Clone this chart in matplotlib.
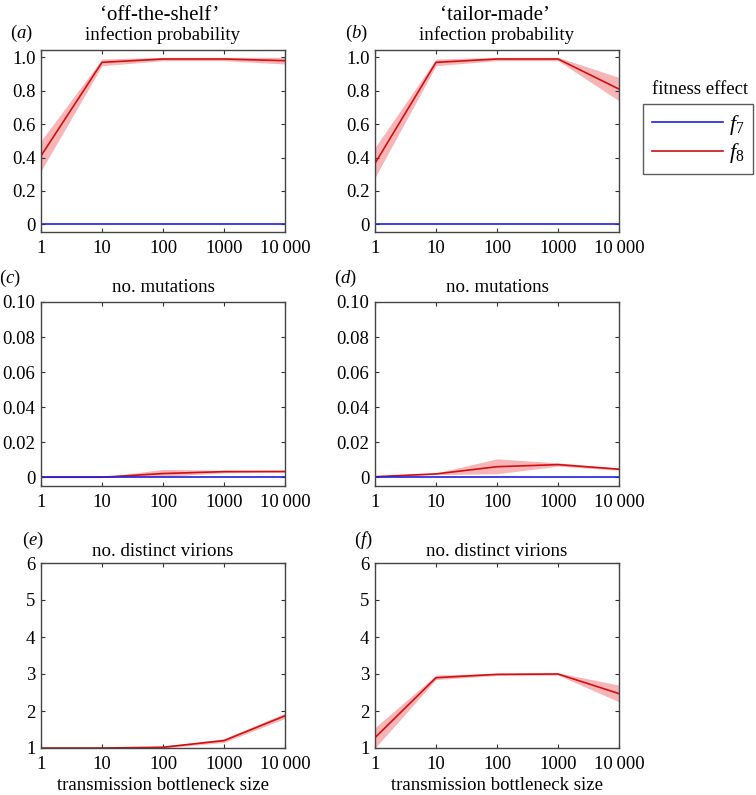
import numpy as np
import matplotlib.pyplot as plt

plt.rcParams['font.family'] = ['Liberation Serif', 'DejaVu Serif']
plt.rcParams['mathtext.fontset'] = 'custom'
plt.rcParams['mathtext.rm'] = 'Liberation Serif'
plt.rcParams['mathtext.it'] = 'Liberation Serif:italic'

# bottleneck sizes
bottleneck = [1, 10, 100, 1000, 10000]
xtick_labels = ['1', '10', '100', '1000', '10\u2009000']

# f7 is zero everywhere in all panels
f7_infection = [0, 0, 0, 0, 0]
f7_mutations = [0, 0, 0, 0, 0]

# off-the-shelf, f8 (mean, lower, upper)
ots_infection = [0.41, 0.97, 0.99, 0.99, 0.98]
ots_infection_lo = [0.32, 0.95, 0.98, 0.98, 0.96]
ots_infection_hi = [0.50, 0.99, 1.00, 1.00, 1.00]
ots_mutations = [0.0, 0.0, 0.0021, 0.0032, 0.0033]
ots_mutations_lo = [0.0, 0.0, 0.0005, 0.0025, 0.0028]
ots_mutations_hi = [0.0, 0.0, 0.0045, 0.0040, 0.0038]
ots_virions = [1.0, 1.0, 1.02, 1.2, 1.87]
ots_virions_lo = [1.0, 0.99, 1.0, 1.15, 1.8]
ots_virions_hi = [1.0, 1.01, 1.05, 1.25, 1.94]

# tailor-made, f8 (mean, lower, upper)
tm_infection = [0.365, 0.97, 0.99, 0.99, 0.81]
tm_infection_lo = [0.28, 0.95, 0.98, 0.98, 0.74]
tm_infection_hi = [0.46, 0.99, 1.00, 1.00, 0.88]
tm_mutations = [0.0003, 0.0019, 0.006, 0.0072, 0.0046]
tm_mutations_lo = [0.0, 0.0015, 0.002, 0.0063, 0.0040]
tm_mutations_hi = [0.0007, 0.0024, 0.0105, 0.0082, 0.0052]
tm_virions = [1.28, 2.9, 2.99, 3.0, 2.47]
tm_virions_lo = [1.0, 2.85, 2.96, 2.97, 2.25]
tm_virions_hi = [1.55, 2.97, 3.02, 3.03, 2.7]

blue = '#2020e0'
red = '#d01010'
band = '#f7b5b8'

W, H = 756, 795
fig = plt.figure(figsize=(W / 100, H / 100), dpi=100)

lefts = [41 / W, 375 / W]
w = 244 / W
rows = [(232, 182), (486, 184), (748, 185)]


def make_ax(col, row):
    b, h = rows[row]
    ax = fig.add_axes([lefts[col], 1 - b / H, w, h / H])
    ax.set_xscale('log')
    ax.set_xlim(1, 10000)
    ax.set_xticks(bottleneck)
    ax.set_xticklabels(xtick_labels)
    ax.xaxis.set_minor_locator(plt.NullLocator())
    ax.tick_params(direction='in', top=True, right=True, labelsize=13.5,
                   length=3, width=0.8, color='#333333')
    ax.tick_params(axis='y', pad=4)
    ax.tick_params(axis='x', pad=6)
    for s in ax.spines.values():
        s.set_color('#444444')
        s.set_linewidth(1.0)
        s.set_zorder(5)
    return ax


def draw(ax, f7, mean, lo, hi):
    ax.fill_between(bottleneck, lo, hi, color=band, lw=0, zorder=1)
    if f7 is not None:
        ax.plot(bottleneck, f7, color=blue, lw=1.2, zorder=3)
    ax.plot(bottleneck, mean, color=red, lw=1.2, zorder=2)


titles = ['infection probability', 'no. mutations', 'no. distinct virions']
letters = ['a', 'b', 'c', 'd', 'e', 'f']
# panel label centres in pixels
letter_pos = [(21, 33), (356, 33), (10, 278), (345, 278), (33, 540), (363, 540)]
title_pad = [7, 7, 5]
data = [
    [(f7_infection, ots_infection, ots_infection_lo, ots_infection_hi),
     (f7_infection, tm_infection, tm_infection_lo, tm_infection_hi)],
    [(f7_mutations, ots_mutations, ots_mutations_lo, ots_mutations_hi),
     (f7_mutations, tm_mutations, tm_mutations_lo, tm_mutations_hi)],
    [(None, ots_virions, ots_virions_lo, ots_virions_hi),
     (None, tm_virions, tm_virions_lo, tm_virions_hi)],
]

axes = {}
for row in range(3):
    for col in range(2):
        ax = make_ax(col, row)
        draw(ax, *data[row][col])
        if row == 0:
            ax.set_ylim(-0.046, 1.044)
            ax.set_yticks([0, 0.2, 0.4, 0.6, 0.8, 1.0])
            ax.set_yticklabels(['0', '0.2', '0.4', '0.6', '0.8', '1.0'])
        elif row == 1:
            ax.set_ylim(-0.005, 0.1)
            ax.set_yticks([0, 0.02, 0.04, 0.06, 0.08, 0.10])
            ax.set_yticklabels(['0', '0.02', '0.04', '0.06', '0.08', '0.10'])
        else:
            ax.set_ylim(1, 6)
            ax.set_yticks([1, 2, 3, 4, 5, 6])
            ax.set_xlabel('transmission bottleneck size', fontsize=13.5, labelpad=3)
        ax.set_title(titles[row], fontsize=13.6, pad=title_pad[row])
        i = row * 2 + col
        lx, ly = letter_pos[i]
        fig.text(lx / W, 1 - ly / H, r'$(\mathit{%s})$' % letters[i],
                 fontsize=13.5, ha='center', va='center')
        axes[(row, col)] = ax

# column headings
fig.text(160 / W, 1 - 15 / H, '\u2018off-the-shelf\u2019', fontsize=15, ha='center', va='center')
fig.text(495 / W, 1 - 15 / H, '\u2018tailor-made\u2019', fontsize=15, ha='center', va='center')

# legend
h7, = axes[(0, 1)].plot([], [], color=blue, lw=1.2)
h8, = axes[(0, 1)].plot([], [], color=red, lw=1.2)
leg = fig.legend([h7, h8], [r'$f_7$', r'$f_8$'], loc='upper left',
                 bbox_to_anchor=(643 / W, 1 - 104 / H), fontsize=16,
                 frameon=True, fancybox=False, handlelength=3.2,
                 borderpad=0.4, labelspacing=0.2, handletextpad=0.25, borderaxespad=0)
leg.get_frame().set_edgecolor('#333333')
leg.get_frame().set_linewidth(1.0)
fig.text(700 / W, 1 - 90 / H, 'fitness effect', fontsize=13.5, ha='center', va='center')

fig.savefig('out.png', dpi=100)
